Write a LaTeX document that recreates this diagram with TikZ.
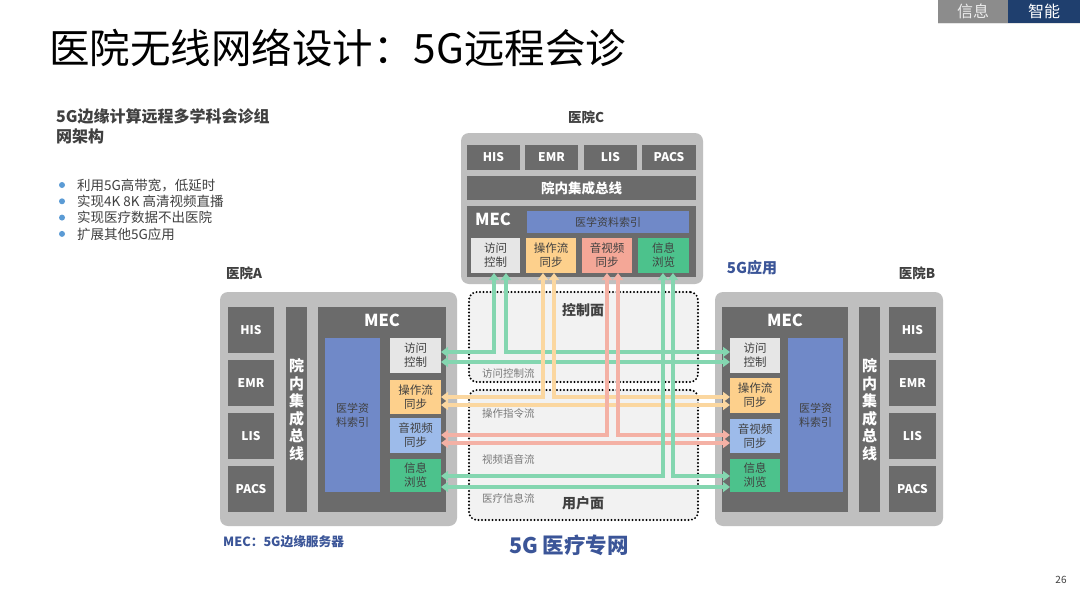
\documentclass[tikz,border=0pt]{standalone}
\usepackage{fontspec}
\setmainfont{Noto Sans CJK SC}
\usetikzlibrary{arrows.meta,calc}
\definecolor{outerc}{HTML}{BFBFBF}
\definecolor{dkbox}{HTML}{6B6B6B}
\definecolor{idxblue}{HTML}{7089C8}
\definecolor{accc}{HTML}{E6E6E6}
\definecolor{oprc}{HTML}{FDD08C}
\definecolor{avsc}{HTML}{F4A797}
\definecolor{avbc}{HTML}{9DBBEA}
\definecolor{infc}{HTML}{4CC28C}
\definecolor{glinec}{HTML}{84D6B0}
\definecolor{olinec}{HTML}{FBD7A0}
\definecolor{slinec}{HTML}{F4B1A5}
\definecolor{txtc}{HTML}{404040}
\definecolor{navyc}{HTML}{3B5598}
\definecolor{planec}{HTML}{F2F2F2}
\definecolor{bulc}{HTML}{5B9BD5}
\definecolor{tabgray}{HTML}{8C8C8C}
\definecolor{tabblue}{HTML}{1F3F6E}
\newcommand\bx[7]{\node[#6, minimum width={(#4-#2)*1pt}, minimum height={(#5-#3)*1pt}] (#1) at ({(#2+#4)/2},{(#3+#5)/2}) {#7};}
\newcommand\fs[1]{\fontsize{#1}{#1}\selectfont}
\tikzset{
  box/.style={inner sep=0pt, outer sep=0pt, align=center},
  outerbox/.style={box, fill=outerc, rounded corners=8pt},
  dk/.style={box, fill=dkbox, text=white, font=\bfseries\fontsize{12}{14}\selectfont},
  idx/.style={box, fill=idxblue, text=txtc, font=\fontsize{11}{14}\selectfont},
  small/.style={box, text=txtc, font=\fontsize{11.5}{14}\selectfont},
  planebox/.style={box, fill=planec, draw=black, line width=2.2pt, dash pattern=on 0pt off 3.5pt, line cap=round, rounded corners=8pt},
  flow/.style={line width=3.6pt, {Triangle[width=10pt,length=7pt]}-{Triangle[width=10pt,length=7pt]}},
  gfl/.style={flow, draw=glinec},
  ofl/.style={flow, draw=olinec},
  sfl/.style={flow, draw=slinec},
  lbl/.style={inner sep=0pt, text=txtc, font=\bfseries\fontsize{13.5}{15}\selectfont},
  meclbl/.style={inner sep=0pt, text=white, font=\bfseries\fontsize{16.5}{18}\selectfont},
  flowlbl/.style={inner sep=0pt, anchor=west, text=gray!95!black, font=\fontsize{10.5}{12}\selectfont},
  bullet/.style={inner sep=0pt, anchor=west, text=txtc, font=\fontsize{13.5}{14}\selectfont},
}
\begin{document}
\begin{tikzpicture}[x=1pt,y=-1pt]
\useasboundingbox[fill=white] (0,0) rectangle (1080,608);
% tabs
\bx{tab1}{938}{0}{1008}{23}{box,fill=tabgray,text=white!85!gray,font=\fs{16}}{信息}
\bx{tab2}{1008}{0}{1080}{23}{box,fill=tabblue,text=white,font=\fs{16}}{智能}
\draw[gray!20,line width=1pt] (tab1.south west) -- (tab2.south east);
% title
\node[inner sep=0pt,anchor=west,font=\fs{40.5}] (title) at (49,48) {医院无线网络设计：5G远程会诊};
% left texts
\node[inner sep=0pt,anchor=west,align=left,text=txtc,font=\bfseries\fontsize{16}{20}\selectfont] (sub) at (56,126.5) {5G边缘计算远程多学科会诊组\\网架构};
\foreach \t [count=\i] in {利用5G高带宽，低延时, 实现4K 8K 高清视频直播, 实现医疗数据不出医院, 扩展其他5G应用}{
  \fill[bulc] (62,{185+(\i-1)*16.3}) circle (3);
  \node[bullet] (b\i) at (77,{185+(\i-1)*16.3}) {\t};
}
% planes
\bx{ctrl}{469}{292}{698}{382}{planebox}{}
\bx{user}{469}{390}{698}{520}{planebox}{}
\node[lbl,font=\bfseries\fs{14}] (ctrllbl) at (583,310) {控制面};
\node[lbl,font=\bfseries\fs{14}] (userlbl) at (583,503) {用户面};
\node[flowlbl] (fl1) at (482,374) {访问控制流};
\node[flowlbl] (fl2) at (482,414) {操作指令流};
\node[flowlbl] (fl3) at (482,459) {视频语音流};
\node[flowlbl] (fl4) at (482,498) {医疗信息流};
% Hospital C
\node[lbl] (labC) at (586,117) {医院C};
\bx{Cout}{461}{133}{703}{284}{outerbox}{}
\bx{cHIS}{467}{145}{520}{170}{dk}{HIS}
\bx{cEMR}{525}{145}{578}{170}{dk}{EMR}
\bx{cLIS}{584}{145}{637}{170}{dk}{LIS}
\bx{cPACS}{642}{145}{696}{170}{dk}{PACS}
\bx{cBus}{467}{176}{696}{200}{dk,font=\bfseries\fs{13.5}}{院内集成总线}
\bx{cMEC}{467}{206}{696}{277}{dk}{}
\node[meclbl] (cMECl) at (493,219) {MEC};
\bx{cIdx}{527}{211}{689}{233}{idx}{医学资料索引}
\bx{cAcc}{471}{238}{520}{273}{small,fill=accc}{访问\\控制}
\bx{cOpr}{526}{238}{576}{273}{small,fill=oprc}{操作流\\同步}
\bx{cAv}{582}{238}{632}{273}{small,fill=avsc}{音视频\\同步}
\bx{cInf}{638}{238}{689}{273}{small,fill=infc}{信息\\浏览}
% Hospital A
\node[lbl] (labA) at (244,273) {医院A};
\bx{Aout}{220}{292}{457}{526}{outerbox}{}
\bx{aHIS}{228}{307}{274}{353}{dk}{HIS}
\bx{aEMR}{228}{360}{274}{406}{dk}{EMR}
\bx{aLIS}{228}{413}{274}{459}{dk}{LIS}
\bx{aPACS}{228}{466}{274}{512}{dk}{PACS}
\bx{aBus}{286}{307}{307}{512}{dk,font=\bfseries\fontsize{15}{17.5}\selectfont}{院\\内\\集\\成\\总\\线}
\bx{aMEC}{318}{307}{446}{512}{dk}{}
\node[meclbl] (aMECl) at (382,320) {MEC};
\bx{aIdx}{325}{338}{380}{492}{idx}{医学资\\料索引}
\bx{aAcc}{390}{338}{441}{373}{small,fill=accc}{访问\\控制}
\bx{aOpr}{390}{380}{441}{414}{small,fill=oprc}{操作流\\同步}
\bx{aAv}{390}{418}{441}{453}{small,fill=avbc}{音视频\\同步}
\bx{aInf}{390}{459}{441}{492}{small,fill=infc}{信息\\浏览}
% Hospital B
\node[lbl] (labB) at (917,273) {医院B};
\node[lbl,text=navyc,font=\bfseries\fs{15}] (app) at (752,268) {5G应用};
\bx{Bout}{715}{292}{943}{526}{outerbox}{}
\bx{bMEC}{722}{307}{848}{512}{dk}{}
\node[meclbl] (bMECl) at (785,320) {MEC};
\bx{bAcc}{730}{338}{780}{373}{small,fill=accc}{访问\\控制}
\bx{bOpr}{730}{378}{780}{413}{small,fill=oprc}{操作流\\同步}
\bx{bAv}{730}{419}{780}{453}{small,fill=avbc}{音视频\\同步}
\bx{bInf}{730}{459}{780}{492}{small,fill=infc}{信息\\浏览}
\bx{bIdx}{788}{338}{843}{492}{idx}{医学资\\料索引}
\bx{bBus}{859}{307}{880}{512}{dk,font=\bfseries\fontsize{15}{17.5}\selectfont}{院\\内\\集\\成\\总\\线}
\bx{bHIS}{889}{307}{936}{353}{dk}{HIS}
\bx{bEMR}{889}{360}{936}{406}{dk}{EMR}
\bx{bLIS}{889}{413}{936}{459}{dk}{LIS}
\bx{bPACS}{889}{466}{936}{512}{dk}{PACS}
% flow coordinates
\coordinate (gx1) at (494,0); \coordinate (gx2) at (506,0);
\coordinate (ox1) at (543,0); \coordinate (ox2) at (554,0);
\coordinate (sx1) at (607,0); \coordinate (sx2) at (618,0);
\coordinate (ix1) at (663,0); \coordinate (ix2) at (673,0);
\coordinate (gy1) at (0,352); \coordinate (gy2) at (0,362);
\coordinate (oy1) at (0,397); \coordinate (oy2) at (0,405);
\coordinate (sy1) at (0,435); \coordinate (sy2) at (0,443);
\coordinate (iy1) at (0,476); \coordinate (iy2) at (0,487);
% flows
\draw[gfl] (cAcc.south -| gx1) |- (aAcc.east |- gy1);
\draw[gfl] (cAcc.south -| gx2) |- (bAcc.west |- gy1);
\draw[gfl] (aAcc.east |- gy2) -- (bAcc.west |- gy2);
\draw[ofl] (cOpr.south -| ox1) |- (aOpr.east |- oy1);
\draw[ofl] (cOpr.south -| ox2) |- (bOpr.west |- oy1);
\draw[ofl] (aOpr.east |- oy2) -- (bOpr.west |- oy2);
\draw[sfl] (cAv.south -| sx1) |- (aAv.east |- sy1);
\draw[sfl] (cAv.south -| sx2) |- (bAv.west |- sy1);
\draw[sfl] (aAv.east |- sy2) -- (bAv.west |- sy2);
\draw[gfl] (cInf.south -| ix1) |- (aInf.east |- iy1);
\draw[gfl] (cInf.south -| ix2) |- (bInf.west |- iy1);
\draw[gfl] (aInf.east |- iy2) -- (bInf.west |- iy2);
% bottom texts
\node[inner sep=0pt,anchor=west,text=navyc,font=\bfseries\fs{12.7}] (mecnote) at (223,542) {MEC：5G边缘服务器};
\node[inner sep=0pt,text=navyc,font=\bfseries\fs{21.5}] (net) at (569,545) {5G 医疗专网};
\node[inner sep=0pt,text=txtc,font=\fs{10}] (page) at (1061,580) {26};
\end{tikzpicture}
\end{document}
